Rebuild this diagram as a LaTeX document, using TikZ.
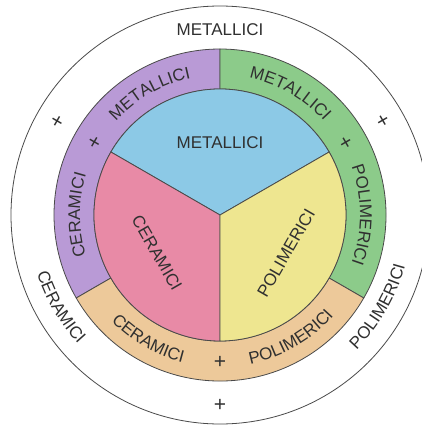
\documentclass[tikz,border=0pt]{standalone}
\usepackage{fontspec}
\setmainfont{Liberation Sans}
\usetikzlibrary{decorations.text}
\definecolor{cblue}{HTML}{8CC9E6}
\definecolor{cpink}{HTML}{E88AA6}
\definecolor{cyellow}{HTML}{EEE690}
\definecolor{cpurple}{HTML}{B99AD6}
\definecolor{cgreen}{HTML}{8CCB8A}
\definecolor{corange}{HTML}{EDC99A}
\definecolor{txt}{HTML}{303030}
\definecolor{edge}{HTML}{4A4A4A}
\newcommand\lblfont{\fontsize{17}{18}\selectfont\color{txt}}
% clockwise arc text (tops outward): angle, radius, half span, text
\newcommand\arctextcw[4]{%
  \path[decorate,decoration={text along path,text align=center,text={|\lblfont|#4}}]
    (#1+#3:#2) arc[start angle=#1+#3, end angle=#1-#3, radius=#2];}
% counter-clockwise arc text (tops inward)
\newcommand\arctextccw[4]{%
  \path[decorate,decoration={text along path,text align=center,text={|\lblfont|#4}}]
    (#1-#3:#2) arc[start angle=#1-#3, end angle=#1+#3, radius=#2];}
\tikzset{
  sector/.style={draw=edge, line width=0.8pt},
  lbl/.style={font=\lblfont, inner sep=0pt},
  plus/.style={font=\fontsize{21}{22}\selectfont\color{txt}, inner sep=0pt}
}
\begin{document}
\begin{tikzpicture}[x=1pt,y=1pt]
\useasboundingbox (-220,-211) rectangle (201,215);
\fill[white] (-220,-211) rectangle (201,215);
% outer circle
\draw[edge, line width=0.8pt] (0,0) circle[radius=209];
% ring sectors
\filldraw[sector, fill=cpurple] (90:166) arc[start angle=90, end angle=210, radius=166] -- (210:126) arc[start angle=210, end angle=90, radius=126] -- cycle;
\filldraw[sector, fill=cgreen] (-30:166) arc[start angle=-30, end angle=90, radius=166] -- (90:126) arc[start angle=90, end angle=-30, radius=126] -- cycle;
\filldraw[sector, fill=corange] (210:166) arc[start angle=210, end angle=330, radius=166] -- (330:126) arc[start angle=330, end angle=210, radius=126] -- cycle;
% inner sectors
\filldraw[sector, fill=cblue] (0,0) -- (30:126) arc[start angle=30, end angle=150, radius=126] -- cycle;
\filldraw[sector, fill=cpink] (0,0) -- (150:126) arc[start angle=150, end angle=270, radius=126] -- cycle;
\filldraw[sector, fill=cyellow] (0,0) -- (270:126) arc[start angle=270, end angle=390, radius=126] -- cycle;
% inner labels
\node[lbl] (inM) at (0,72) {METALLICI};
\node[lbl, rotate=-60] (inC) at (-63,-38) {CERAMICI};
\node[lbl, rotate=60] (inP) at (66,-38) {POLIMERICI};
% ring labels
\arctextcw{120}{140}{40}{METALLICI}
\arctextcw{60}{140}{40}{METALLICI}
\arctextcw{180}{140}{40}{CERAMICI}
\arctextcw{0}{140}{40}{POLIMERICI}
\arctextccw{240}{152}{40}{CERAMICI}
\arctextccw{300}{152}{40}{POLIMERICI}
% ring pluses
\node[plus, rotate=-120] (rp1) at (150:146) {+};
\node[plus, rotate=-240] (rp2) at (30:146) {+};
\node[plus] (rp3) at (270:147) {+};
% outer labels
\node[lbl] (outM) at (0,185) {METALLICI};
\arctextccw{210}{192}{30}{CERAMICI}
\arctextccw{330}{192}{30}{POLIMERICI}
% outer pluses
\node[plus, rotate=-120] (op1) at (150:189) {+};
\node[plus, rotate=-240] (op2) at (30:189) {+};
\node[plus] (op3) at (270:190) {+};
\end{tikzpicture}
\end{document}
